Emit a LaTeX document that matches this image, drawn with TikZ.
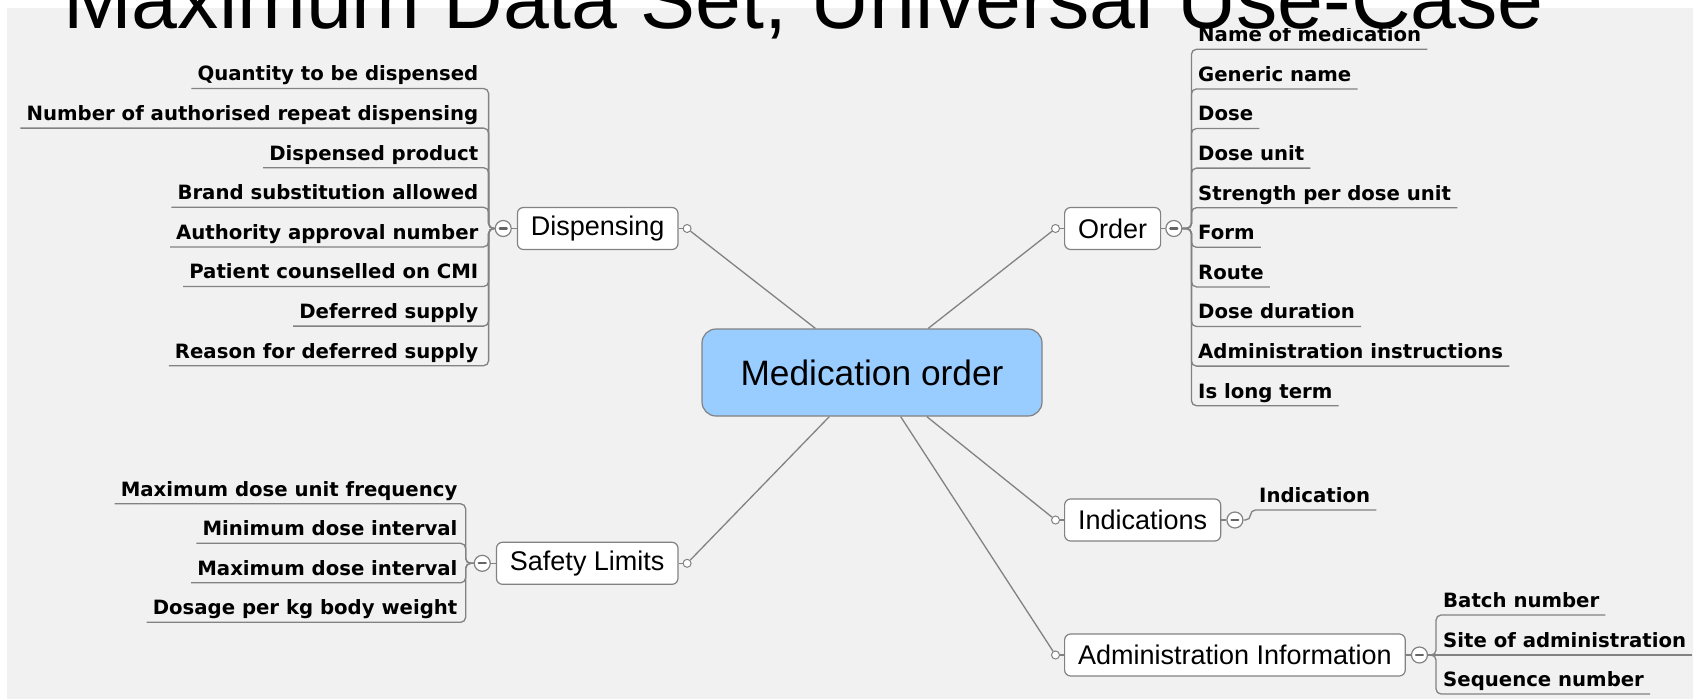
\documentclass[tikz,border=0pt]{standalone}
\usepackage{fontspec}
\setmainfont{Liberation Sans}
\newfontfamily\folhafont{DejaVu Sans}
\usepackage{xcolor}
\usetikzlibrary{positioning}

\definecolor{fundo}{RGB}{241,241,241}
\definecolor{azul}{RGB}{153,204,255}
\definecolor{cinza}{RGB}{130,130,130}
\definecolor{escuro}{RGB}{100,100,100}

\begin{document}
\begin{tikzpicture}[
    x=1pt, y=-1pt,
    every node/.style={text=black},
    linha/.style={draw=cinza, line width=1.3pt}
  ]
  \tikzset{
    centro/.style={draw=cinza, fill=azul, line width=1.2pt, rounded corners=14pt,
      minimum width=340pt, minimum height=87pt, font=\fontsize{35.3}{40}\selectfont},
    ramo/.style={draw=cinza, fill=white, line width=1.2pt, rounded corners=6pt,
      minimum height=42pt, inner xsep=13.5pt, font=\fontsize{27}{30}\selectfont},
    bolinha/.style={circle, draw=cinza, fill=white, line width=1pt, minimum size=8pt, inner sep=0pt},
    dobra/.style={circle, draw=cinza, fill=white, line width=1.2pt, minimum size=16pt, inner sep=0pt,
      path picture={\draw[escuro, line width=2.2pt, line cap=round]
        ([xshift=-3.5pt]path picture bounding box.center) -- ([xshift=3.5pt]path picture bounding box.center);}},
    folha/.style={inner xsep=6pt, inner ysep=0pt, text depth=7.5pt,
      font=\folhafont\bfseries\fontsize{19.7}{23}\selectfont},
    folhaE/.style={folha, anchor=south east},
    folhaD/.style={folha, anchor=south west},
    galho/.style={linha, rounded corners=5pt}
  }
  \useasboundingbox (0,0) rectangle (1693,699);
  \fill[white] (0,0) rectangle (1693,699);
  \fill[fundo] (7,8) rectangle (1693,699);

  % centro
  \node[centro] (med) at (872,372.5) {Medication order};

  % ramos principais
  \node[ramo, anchor=east] (disp) at (678.6,228.5) {Dispensing};
  \node[ramo, anchor=west] (ord) at (1064,228.5) {Order};
  \node[ramo, anchor=east] (seg) at (678.6,563.3) {Safety Limits};
  \node[ramo, anchor=west] (ind) at (1064,520) {Indications};
  \node[ramo, anchor=west] (adm) at (1064,655) {Administration Information};

  \node[bolinha, right=4pt of disp] (bdisp) {};
  \node[bolinha, left=4pt of ord] (bord) {};
  \node[bolinha, right=4pt of seg] (bseg) {};
  \node[bolinha, left=4pt of ind] (bind) {};
  \node[bolinha, left=4pt of adm] (badm) {};

  \node[dobra, left=5pt of disp] (ddisp) {};
  \node[dobra, right=4pt of ord] (dord) {};
  \node[dobra, left=5pt of seg] (dseg) {};
  \node[dobra, right=5pt of ind] (dind) {};
  \node[dobra, right=5pt of adm] (dadm) {};

  \draw[linha] (med) -- (bdisp);
  \draw[linha] (med) -- (bord);
  \draw[linha] (med) -- (bseg);
  \draw[linha] (med) -- (bind);
  \draw[linha] (med) -- (badm);
  \draw[linha] (disp) -- (bdisp);
  \draw[linha] (disp) -- (ddisp);
  \draw[linha] (ord) -- (bord);
  \draw[linha] (ord) -- (dord);
  \draw[linha] (seg) -- (bseg);
  \draw[linha] (seg) -- (dseg);
  \draw[linha] (ind) -- (bind);
  \draw[linha] (ind) -- (dind);
  \draw[linha] (adm) -- (badm);
  \draw[linha] (adm) -- (dadm);

  % folhas: Dispensing
  \node[folhaE] (d1) at (484.5,88.5) {Quantity to be dispensed};
  \node[folhaE] (d2) at (484.5,128.1) {Number of authorised repeat dispensing};
  \node[folhaE] (d3) at (484.5,167.7) {Dispensed product};
  \node[folhaE] (d4) at (484.5,207.3) {Brand substitution allowed};
  \node[folhaE] (d5) at (484.5,246.9) {Authority approval number};
  \node[folhaE] (d6) at (484.5,286.5) {Patient counselled on CMI};
  \node[folhaE] (d7) at (484.5,326.1) {Deferred supply};
  \node[folhaE] (d8) at (484.5,365.7) {Reason for deferred supply};
  \draw[galho] (ddisp.west) -- ++(-6,0) |- (d1.south west);
  \draw[galho] (ddisp.west) -- ++(-6,0) |- (d2.south west);
  \draw[galho] (ddisp.west) -- ++(-6,0) |- (d3.south west);
  \draw[galho] (ddisp.west) -- ++(-6,0) |- (d4.south west);
  \draw[galho] (ddisp.west) -- ++(-6,0) |- (d5.south west);
  \draw[galho] (ddisp.west) -- ++(-6,0) |- (d6.south west);
  \draw[galho] (ddisp.west) -- ++(-6,0) |- (d7.south west);
  \draw[galho] (ddisp.west) -- ++(-6,0) |- (d8.south west);

  % folhas: Order
  \node[folhaD] (o1) at (1192,49.3) {Name of medication};
  \node[folhaD] (o2) at (1192,88.9) {Generic name};
  \node[folhaD] (o3) at (1192,128.5) {Dose};
  \node[folhaD] (o4) at (1192,168.1) {Dose unit};
  \node[folhaD] (o5) at (1192,207.7) {Strength per dose unit};
  \node[folhaD] (o6) at (1192,247.3) {Form};
  \node[folhaD] (o7) at (1192,286.9) {Route};
  \node[folhaD] (o8) at (1192,326.5) {Dose duration};
  \node[folhaD] (o9) at (1192,366.1) {Administration instructions};
  \node[folhaD] (o10) at (1192,405.7) {Is long term};
  \draw[galho] (dord.east) -- ++(9,0) |- (o1.south east);
  \draw[galho] (dord.east) -- ++(9,0) |- (o2.south east);
  \draw[galho] (dord.east) -- ++(9,0) |- (o3.south east);
  \draw[galho] (dord.east) -- ++(9,0) |- (o4.south east);
  \draw[galho] (dord.east) -- ++(9,0) |- (o5.south east);
  \draw[galho] (dord.east) -- ++(9,0) |- (o6.south east);
  \draw[galho] (dord.east) -- ++(9,0) |- (o7.south east);
  \draw[galho] (dord.east) -- ++(9,0) |- (o8.south east);
  \draw[galho] (dord.east) -- ++(9,0) |- (o9.south east);
  \draw[galho] (dord.east) -- ++(9,0) |- (o10.south east);

  % folhas: Safety Limits
  \node[folhaE] (s1) at (463.6,503.8) {Maximum dose unit frequency};
  \node[folhaE] (s2) at (463.6,543.3) {Minimum dose interval};
  \node[folhaE] (s3) at (463.6,582.8) {Maximum dose interval};
  \node[folhaE] (s4) at (463.6,622.3) {Dosage per kg body weight};
  \draw[galho] (dseg.west) -- ++(-8,0) |- (s1.south west);
  \draw[galho] (dseg.west) -- ++(-8,0) |- (s2.south west);
  \draw[galho] (dseg.west) -- ++(-8,0) |- (s3.south west);
  \draw[galho] (dseg.west) -- ++(-8,0) |- (s4.south west);

  % folhas: Indications
  \node[folhaD] (i1) at (1253,510) {Indication};
  \draw[galho] (dind.east) -- ++(7,0) |- (i1.south east);

  % folhas: Administration Information
  \node[folhaD] (a1) at (1437,615) {Batch number};
  \node[folhaD] (a2) at (1437,655) {Site of administration};
  \node[folhaD] (a3) at (1437,694) {Sequence number};
  \draw[galho] (dadm.east) -- ++(8,0) |- (a1.south east);
  \draw[linha] (dadm.east) -- (a2.south east);
  \draw[galho] (dadm.east) -- ++(8,0) |- (a3.south east);

  % faixa do titulo (corta o topo da primeira folha)
  \fill[fundo] (7,8) rectangle (1693,28);
  \node[anchor=base west, inner sep=0pt, font=\fontsize{82.5}{95}\selectfont] (titulo)
    at (63,28.5) {Maximum Data Set, Universal Use-Case};
\end{tikzpicture}
\end{document}
